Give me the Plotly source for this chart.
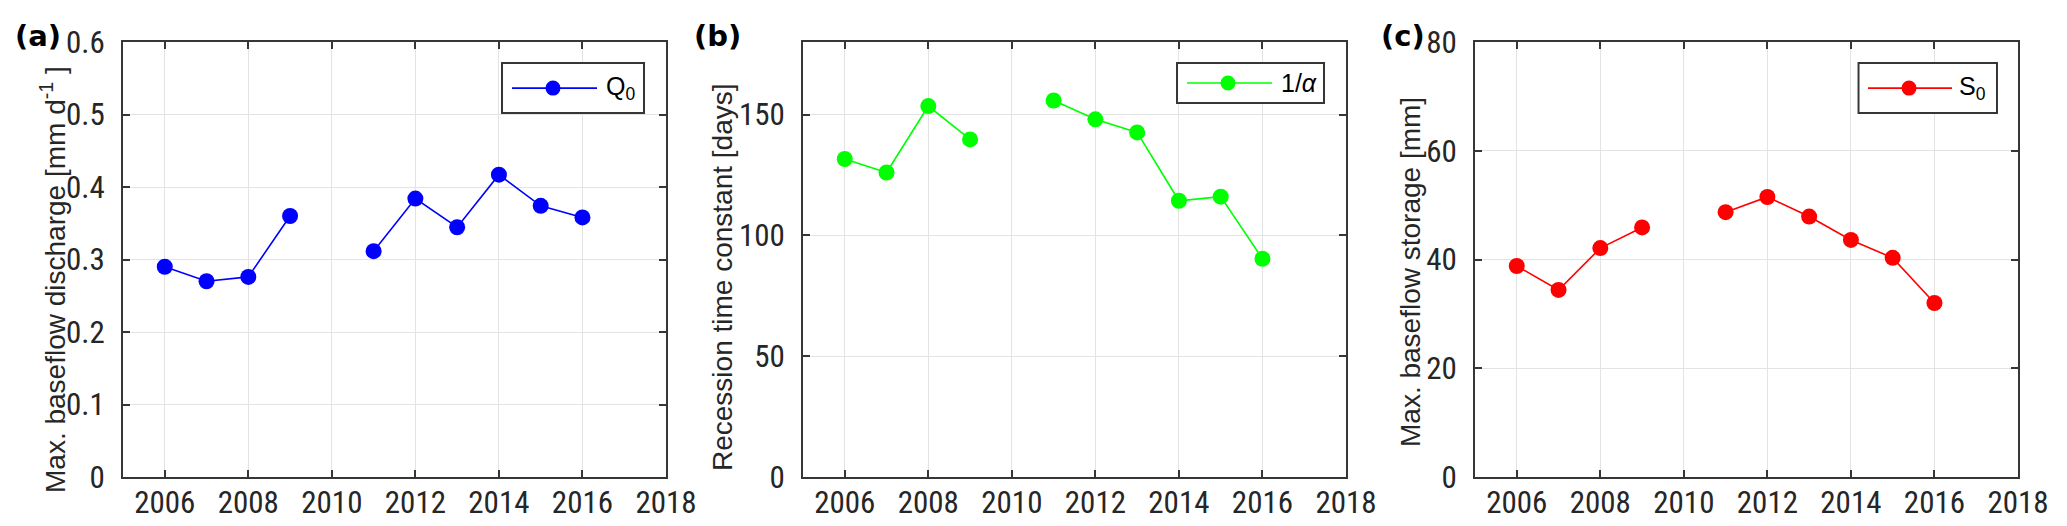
import plotly.graph_objects as go

# ---------------- data ----------------
years = [2006, 2007, 2008, 2009, 2010, 2011, 2012, 2013, 2014, 2015, 2016]
q0 = [0.290, 0.270, 0.276, 0.360, None, 0.3115, 0.384, 0.3445, 0.417, 0.374, 0.358]
inv_alpha = [131.6, 126.0, 153.5, 139.7, None, 155.8, 148.0, 142.6, 114.3, 116.0, 90.3]
s0 = [38.8, 34.4, 42.1, 45.9, None, 48.7, 51.5, 47.9, 43.6, 40.3, 32.0]

x_ticks = [2006, 2008, 2010, 2012, 2014, 2016, 2018]
q0_ticks = [0, 0.1, 0.2, 0.3, 0.4, 0.5, 0.6]
q0_ticktext = ["0", "0.1", "0.2", "0.3", "0.4", "0.5", "0.6"]
alpha_ticks = [0, 50, 100, 150]
s0_ticks = [0, 20, 40, 60, 80]

series_names = ["Q<sub>0</sub>", "1/<i>α</i>", "S<sub>0</sub>"]
y_titles = ["Max. baseflow discharge [mm d<sup>-1</sup> ]",
            "Recession time constant [days]",
            "Max. baseflow storage [mm]"]
panel_labels = ["(a)", "(b)", "(c)"]

# ---------------- style ----------------
# page body has an 8px margin; positions below are given in window pixels
OFF = 8
W, H = 2067 - OFF, 526 - OFF


def px(xp):
    return (xp - OFF) / W


def py(yp):
    return 1 - (yp - OFF) / H


colors = ["#0000ff", "#00ff00", "#ff0000"]
x_domains = [(px(123), px(666)), (px(803), px(1346)), (px(1475), px(2018))]
y_domain = (py(477), py(42))
y_ranges = [(0, 0.6), (0, 180), (0, 80)]
TICKFONT = "Roboto Condensed, Liberation Sans, Arial"
FONT = "Liberation Sans, Arial"
TXT = "#262626"
AX = "#363636"
GRID = "#e3e3e3"
label_x = [px(13), px(692), px(1379)]
title_cx = [px(53), px(722), px(1410)]
title_cy = [py(280), py(277), py(272)]

# legend layout in axis-domain fractions: box x0,x1,y0,y1, line x0,x1,y, marker x, text x
legend_geo = [
    dict(bx=(0.698, 0.9595), by=(0.8368, 0.9517), lx=(0.7164, 0.873), ly=0.894, mx=0.7919, tx=0.885),
    dict(bx=(0.6888, 0.9595), by=(0.8598, 0.9517), lx=(0.7072, 0.8637), ly=0.9057, mx=0.7827, tx=0.876),
    dict(bx=(0.7063, 0.9613), by=(0.8368, 0.9517), lx=(0.7238, 0.8785), ly=0.894, mx=0.7993, tx=0.888),
]

series = [q0, inv_alpha, s0]
y_tick_specs = [(q0_ticks, q0_ticktext), (alpha_ticks, [str(v) for v in alpha_ticks]),
                (s0_ticks, [str(v) for v in s0_ticks])]

fig = go.Figure()
shapes = []
annotations = []

for i in range(3):
    sfx = "" if i == 0 else str(i + 1)
    fig.add_trace(go.Scatter(
        x=years, y=series[i], mode="lines+markers",
        name=series_names[i],
        line=dict(color=colors[i], width=1.6),
        marker=dict(color=colors[i], size=16, symbol="circle"),
        connectgaps=False, showlegend=False,
        xaxis="x" + sfx, yaxis="y" + sfx,
    ))
    common = dict(
        showline=True, linecolor=AX, linewidth=2, mirror="ticks",
        ticks="inside", ticklen=7, tickwidth=1.5, tickcolor=AX,
        showgrid=True, gridcolor=GRID, gridwidth=1.2,
        zeroline=False, automargin=False,
        tickfont=dict(family=TICKFONT, size=31, color=TXT),
    )
    fig.update_layout(**{
        "xaxis" + sfx: dict(
            domain=list(x_domains[i]), range=[2005, 2018], tickmode="array",
            tickvals=x_ticks, ticktext=[str(v) for v in x_ticks],
            anchor="y" + sfx, ticklabelstandoff=-3, **common),
        "yaxis" + sfx: dict(
            domain=list(y_domain), range=list(y_ranges[i]), tickmode="array",
            tickvals=y_tick_specs[i][0], ticktext=y_tick_specs[i][1],
            anchor="x" + sfx, ticklabelstandoff=10,
            **common),
    })

    # y-axis title
    annotations.append(dict(text=y_titles[i], xref="paper", yref="paper",
                            x=title_cx[i], y=title_cy[i], xanchor="center", yanchor="middle",
                            textangle=-90, showarrow=False,
                            font=dict(family=FONT, size=28, color=TXT)))

    # legend box drawn in axis-domain coordinates
    g = legend_geo[i]
    xr, yr = "x" + sfx + " domain", "y" + sfx + " domain"
    shapes.append(dict(type="rect", xref=xr, yref=yr, x0=g["bx"][0], x1=g["bx"][1],
                       y0=g["by"][0], y1=g["by"][1], line=dict(color=AX, width=2),
                       fillcolor="white", layer="above"))
    shapes.append(dict(type="line", xref=xr, yref=yr, x0=g["lx"][0], x1=g["lx"][1],
                       y0=g["ly"], y1=g["ly"], line=dict(color=colors[i], width=1.6),
                       layer="above"))
    r = 7.5 / 543
    ry = 7.5 / 435
    shapes.append(dict(type="circle", xref=xr, yref=yr, x0=g["mx"] - r, x1=g["mx"] + r,
                       y0=g["ly"] - ry, y1=g["ly"] + ry, fillcolor=colors[i],
                       line=dict(color=colors[i], width=0), layer="above"))
    annotations.append(dict(text=series_names[i], xref=xr, yref=yr, x=g["tx"], y=g["ly"],
                            xanchor="left", yanchor="middle", showarrow=False,
                            font=dict(family=FONT, size=25, color="black")))
    annotations.append(dict(text="<b>" + panel_labels[i] + "</b>", xref="paper", yref="paper",
                            x=label_x[i], y=py(17), xanchor="left", yanchor="top",
                            showarrow=False,
                            font=dict(family="DejaVu Sans", size=29, color="black")))

fig.update_layout(
    width=W, height=H,
    margin=dict(l=0, r=0, t=0, b=0),
    paper_bgcolor="white", plot_bgcolor="white",
    shapes=shapes, annotations=annotations,
    showlegend=False,
)

fig.write_html("out.html")
